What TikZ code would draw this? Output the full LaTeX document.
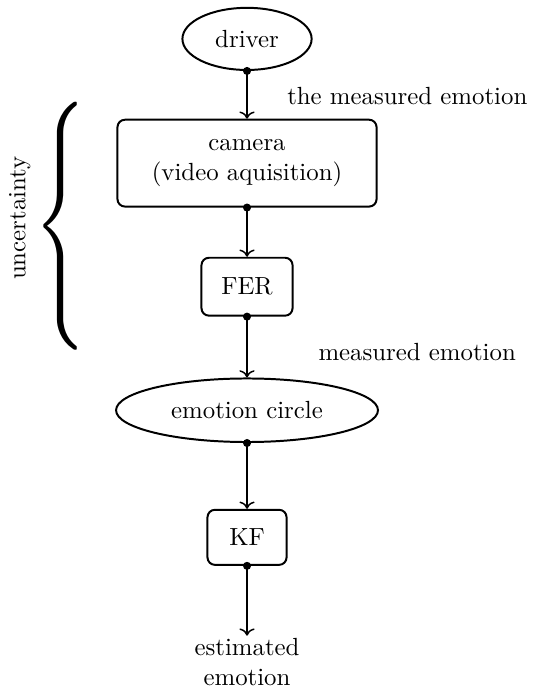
\documentclass[tikz,border=0pt]{standalone}
\usepackage{amsmath}
\usepackage{amssymb}
\usepackage{tikz}
\usetikzlibrary{shapes.geometric}
\usetikzlibrary{arrows.meta}

\begin{document}
\begin{tikzpicture}[
    block/.style={draw, thick, rounded corners=3pt, align=center},
    oval/.style={draw, thick, ellipse, inner sep=0pt},
    flow/.style={{Circle[length=3.2pt]}->, semithick, shorten <=-1.6pt}
    ]
    \useasboundingbox (-3.499, 0) rectangle (4.079, 9.731);

    % --- Signal chain ---
    \node[oval, minimum width=1.83cm, minimum height=0.88cm] (driver) at (0, 9.18) {driver};
    \node[block, minimum width=3.67cm, minimum height=1.23cm] (camera) at (0, 7.42) {camera\\(video aquisition)};
    \node[block, minimum width=1.29cm, minimum height=0.82cm] (fer) at (0, 5.67) {FER};
    \node[oval, minimum width=3.71cm, minimum height=0.9cm] (circle) at (0, 3.92) {emotion circle};
    \node[block, minimum width=1.12cm, minimum height=0.78cm] (kf) at (0, 2.12) {KF};
    \node[align=center, inner sep=1pt] (estimate) at (0, 0.35) {estimated\\emotion};

    % Connectors
    \draw[flow] (driver) -- (camera);
    \draw[flow] (camera) -- (fer);
    \draw[flow] (fer) -- (circle);
    \draw[flow] (circle) -- (kf);
    \draw[flow] (kf) -- (estimate);

    % Labels next to the arrows
    \node (measuredtop) at (2.27, 8.37) {the measured emotion};
    \node (measuredlow) at (2.41, 4.75) {measured emotion};

    % --- Uncertainty brace ---
    \node[inner sep=0pt] (brace) at (-2.64, 6.53) {\resizebox*{21pt}{100pt}{$\Bigg\{$}};
    \node[rotate=90] (uncertainty) at (-3.22, 6.64) {uncertainty};
\end{tikzpicture}
\end{document}
